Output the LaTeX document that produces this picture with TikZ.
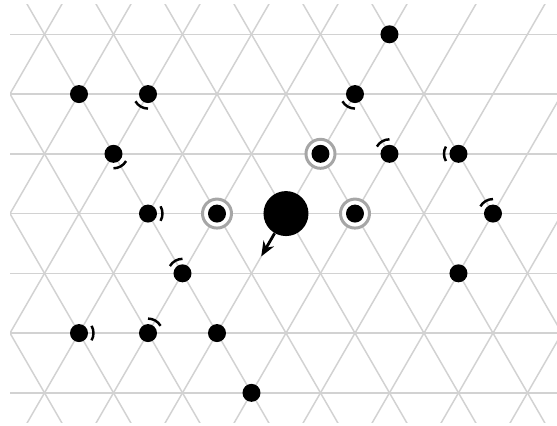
\documentclass[tikz,border=0pt]{standalone}
\usepackage{tikz}
\usetikzlibrary{arrows.meta,positioning}

\begin{document}
\begin{tikzpicture}[
  x=1.38cm, y=1.1952cm,
  grid/.style={draw=gray!35, line width=0.85pt},
  dot/.style={circle, fill=black, inner sep=0pt, minimum size=0.36cm},
  bigdot/.style={circle, fill=black, inner sep=0pt, minimum size=0.9cm},
  ring/.style={circle, draw=gray!70, fill=white, line width=1.7pt, inner sep=0pt, minimum size=0.58cm},
  tick/.style={draw=black, line width=1.4pt},
  arrow/.style={-{Stealth[length=0.3cm, width=0.24cm]}, line width=1.6pt}
]
\useasboundingbox (-0.645,-0.5546) rectangle (7.428,6.574);

% Lattice
\begin{scope}
\clip (-0.5,-0.5) rectangle (7.43,6.5);
\foreach \j in {0,...,6}
  \draw[grid] (-0.5,\j) -- (7.43,\j);
\foreach \m in {-4,...,8} {
  \draw[grid] (\m-0.5,-1) -- (\m+4,8);
  \draw[grid] (\m+0.5,-1) -- (\m-4,8);
}
\end{scope}

% Marked sites
\node[ring] (m1) at (4,4) {};
\node[ring] (m2) at (2.5,3) {};
\node[ring] (m3) at (4.5,3) {};

% Sites
\node[dot] (s1) at (5,6) {};
\node[dot] (s2) at (0.5,5) {};
\node[dot] (s3) at (1.5,5) {};
\node[dot] (s4) at (4.5,5) {};
\node[dot] (s5) at (1,4) {};
\node[dot] (s6) at (m1) {};
\node[dot] (s7) at (5,4) {};
\node[dot] (s8) at (6,4) {};
\node[dot] (s9) at (1.5,3) {};
\node[dot] (s10) at (m2) {};
\node[dot] (s11) at (m3) {};
\node[dot] (s12) at (6.5,3) {};
\node[dot] (s13) at (2,2) {};
\node[dot] (s14) at (6,2) {};
\node[dot] (s15) at (0.5,1) {};
\node[dot] (s16) at (1.5,1) {};
\node[dot] (s17) at (2.5,1) {};
\node[dot] (s18) at (3,0) {};

% Walker
\node[bigdot] (walker) at (3.5,3) {};
\path (walker.center) ++(-120:0.99cm) coordinate (tip);
\draw[arrow] (walker) -- (tip);

% Ticks
\foreach \n/\a in {s3/-120, s4/-120, s5/-60, s7/120, s8/180, s9/0, s12/120, s13/120, s15/0, s16/60}
  \draw[tick] (\n.center) ++(\a-30:0.29cm) arc[start angle=\a-30, end angle=\a+30, radius=0.29cm];

\end{tikzpicture}
\end{document}
